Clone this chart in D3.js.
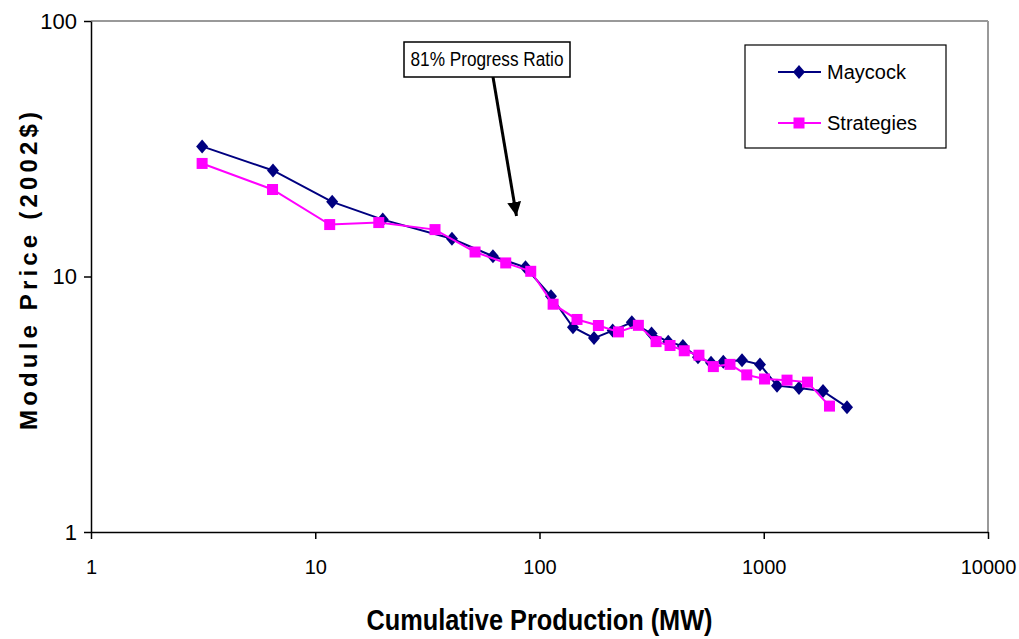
<!DOCTYPE html>
<html>
<head>
<meta charset="utf-8">
<script src="https://cdn.jsdelivr.net/npm/d3@7/dist/d3.min.js"></script>
<style>
  html, body { margin: 0; padding: 0; background: #fff; }
  svg { display: block; }
  text { font-family: "Liberation Sans", Arial, sans-serif; }
</style>
</head>
<body>
<svg id="chart" width="1019" height="639"></svg>
<script>
// ---- Data ----
const maycockX = [3.13, 6.48, 11.9, 20.0, 40.7, 62.0, 86.6, 112.5, 141, 175, 212, 258, 316, 375, 436, 509, 582, 660, 800, 962, 1146, 1436, 1838, 2351];
const maycockY = [32.3, 26.0, 19.6, 16.7, 14.05, 12.0, 10.87, 8.37, 6.33, 5.74, 6.14, 6.62, 5.98, 5.56, 5.34, 4.83, 4.60, 4.64, 4.70, 4.52, 3.74, 3.66, 3.56, 3.08];
const strategiesX = [3.13, 6.45, 11.6, 19.2, 34.2, 51.6, 70.7, 91.4, 115, 147, 183, 225, 276, 331, 382, 442, 514, 596, 707, 840, 1008, 1270, 1567, 1964];
const strategiesY = [27.7, 21.9, 15.97, 16.26, 15.26, 12.47, 11.3, 10.48, 7.79, 6.79, 6.43, 6.07, 6.44, 5.56, 5.37, 5.12, 4.92, 4.44, 4.53, 4.12, 3.97, 3.93, 3.86, 3.11];
const xTicks = [1, 10, 100, 1000, 10000];
const yTicks = [1, 10, 100];
const seriesNames = ["Maycock", "Strategies"];
const annotationText = "81% Progress Ratio";
const xTitle = "Cumulative Production (MW)";
const yTitle = "Module Price (2002$)";

// ---- Layout ----
const L = 91, R = 988, T = 21, B = 532;
const svg = d3.select("#chart");

const x = d3.scaleLog().domain([1, 10000]).range([L, R]);
const y = d3.scaleLog().domain([1, 100]).range([B, T]);

// plot frame (gray top/right)
svg.append("line").attr("x1", L).attr("x2", R).attr("y1", T).attr("y2", T)
  .attr("stroke", "#999").attr("stroke-width", 2);
svg.append("line").attr("x1", R).attr("x2", R).attr("y1", T).attr("y2", B)
  .attr("stroke", "#999").attr("stroke-width", 2);

// axes
const xAxis = d3.axisBottom(x).tickValues(xTicks).tickFormat(d3.format("d"))
  .tickSizeInner(7).tickSizeOuter(0).tickPadding(21);
const gx = svg.append("g").attr("transform", `translate(0,${B})`).call(xAxis);
gx.selectAll("text").attr("font-size", 20).attr("fill", "#000")
  .attr("font-family", "'Liberation Sans', Arial, sans-serif");
gx.selectAll("line, path").attr("stroke", "#000").attr("stroke-width", 1.5);

const yAxis = d3.axisLeft(y).tickValues(yTicks).tickFormat(d3.format("d"))
  .tickSizeInner(7).tickSizeOuter(0).tickPadding(7);
const gy = svg.append("g").attr("transform", `translate(${L},0)`).call(yAxis);
gy.selectAll("text").attr("font-size", 22).attr("fill", "#000")
  .attr("font-family", "'Liberation Sans', Arial, sans-serif");
gy.selectAll("line, path").attr("stroke", "#000").attr("stroke-width", 1.5);

// titles
svg.append("text").attr("x", (L + R) / 2).attr("y", 630)
  .attr("text-anchor", "middle").attr("font-weight", "bold").attr("font-size", 29)
  .attr("textLength", 346).attr("lengthAdjust", "spacingAndGlyphs")
  .text(xTitle);
svg.append("text").attr("transform", "translate(37,271) rotate(-90)")
  .attr("text-anchor", "middle").attr("font-weight", "bold").attr("font-size", 24)
  .attr("textLength", 318).attr("lengthAdjust", "spacing")
  .text(yTitle);

// series
const maycock = maycockX.map((v, i) => [v, maycockY[i]]);
const strategies = strategiesX.map((v, i) => [v, strategiesY[i]]);
const line = d3.line().x(d => x(d[0])).y(d => y(d[1]));

svg.append("path").datum(maycock).attr("d", line)
  .attr("fill", "none").attr("stroke", "#000080").attr("stroke-width", 2);
svg.append("g").selectAll("path").data(maycock).join("path")
  .attr("transform", d => `translate(${x(d[0])},${y(d[1])})`)
  .attr("d", "M0,-7L6,0L0,7L-6,0Z").attr("fill", "#000080");

svg.append("path").datum(strategies).attr("d", line)
  .attr("fill", "none").attr("stroke", "#FF00FF").attr("stroke-width", 2);
svg.append("g").selectAll("rect").data(strategies).join("rect")
  .attr("x", d => x(d[0]) - 5.5).attr("y", d => y(d[1]) - 5.5)
  .attr("width", 11).attr("height", 11).attr("fill", "#FF00FF");

// annotation
svg.append("defs").append("marker").attr("id", "ah")
  .attr("viewBox", "0 0 10 10").attr("refX", 10).attr("refY", 5)
  .attr("markerWidth", 14).attr("markerHeight", 14).attr("markerUnits", "userSpaceOnUse")
  .attr("orient", "auto")
  .append("path").attr("d", "M0,0L10,5L0,10Z").attr("fill", "#000");
svg.append("line").attr("x1", 493).attr("y1", 77).attr("x2", 516.5).attr("y2", 216)
  .attr("stroke", "#000").attr("stroke-width", 3).attr("marker-end", "url(#ah)");
svg.append("rect").attr("x", 404).attr("y", 42).attr("width", 166).attr("height", 35)
  .attr("fill", "#fff").attr("stroke", "#000").attr("stroke-width", 1.5);
svg.append("text").attr("x", 487).attr("y", 66).attr("text-anchor", "middle")
  .attr("font-size", 20).attr("textLength", 153).attr("lengthAdjust", "spacingAndGlyphs")
  .text(annotationText);

// legend
svg.append("rect").attr("x", 745).attr("y", 45).attr("width", 201).attr("height", 103)
  .attr("fill", "#fff").attr("stroke", "#000").attr("stroke-width", 1.2);
const legY = [72, 123];
const legColors = ["#000080", "#FF00FF"];
seriesNames.forEach((name, i) => {
  svg.append("line").attr("x1", 778).attr("x2", 821).attr("y1", legY[i]).attr("y2", legY[i])
    .attr("stroke", legColors[i]).attr("stroke-width", 2);
  if (i === 0) {
    svg.append("path").attr("transform", `translate(799,${legY[i]})`)
      .attr("d", "M0,-7L6,0L0,7L-6,0Z").attr("fill", legColors[i]);
  } else {
    svg.append("rect").attr("x", 793.5).attr("y", legY[i] - 5.5).attr("width", 11).attr("height", 11)
      .attr("fill", legColors[i]);
  }
  svg.append("text").attr("x", 827).attr("y", legY[i] + 7).attr("font-size", 20)
    .attr("fill", "#000").text(name);
});
</script>
</body>
</html>
